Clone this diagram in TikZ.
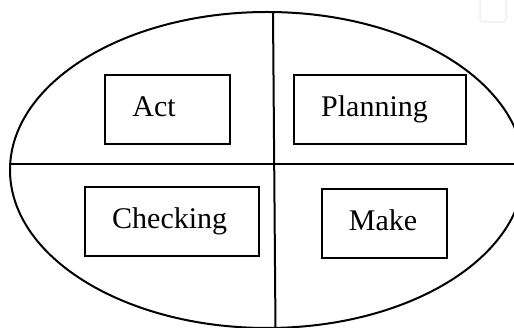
\documentclass[tikz,border=0pt]{standalone}
\usepackage{fontspec}
\setmainfont{Liberation Serif}
\begin{document}
\begin{tikzpicture}[x=1pt,y=-1pt,
  boxstyle/.style={draw=black,line width=1.9pt,inner sep=0pt},
  lbl/.style={anchor=base,inner sep=0pt,font=\fontsize{30}{36}\selectfont},
  rim/.style={draw=black,line width=2pt}]
\useasboundingbox (0,0) rectangle (514,328);
\clip (0,0) rectangle (514,328);
% faint square at top right
\draw[gray!12,line width=1.5pt,rounded corners=3pt] (480,-5) rectangle (506,22);
% ellipse
\draw[rim] (267,170) ellipse [x radius=257, y radius=158];
% dividing lines
\coordinate (vtop) at (273,12);
\coordinate (vbot) at (275.5,330);
\coordinate (hleft) at (10,164);
\coordinate (hright) at (540,164);
\draw[rim] (vtop) -- (vbot);
\draw[rim] (hleft) -- (hright);
% boxes
\node[boxstyle,minimum width=125pt,minimum height=69pt] (actbox) at (167.5,109.7) {};
\node[boxstyle,minimum width=172pt,minimum height=69pt] (planbox) at (380,109.7) {};
\node[boxstyle,minimum width=174pt,minimum height=69pt] (checkbox) at (172.2,221.5) {};
\node[boxstyle,minimum width=125pt,minimum height=69pt] (makebox) at (384.7,223.8) {};
% labels
\node[lbl] (act) at (154,116.7) {Act};
\node[lbl] (plan) at (374.5,116.7) {Planning};
\node[lbl] (check) at (169.7,228.7) {Checking};
\node[lbl] (make) at (383,230.7) {Make};
\end{tikzpicture}
\end{document}
